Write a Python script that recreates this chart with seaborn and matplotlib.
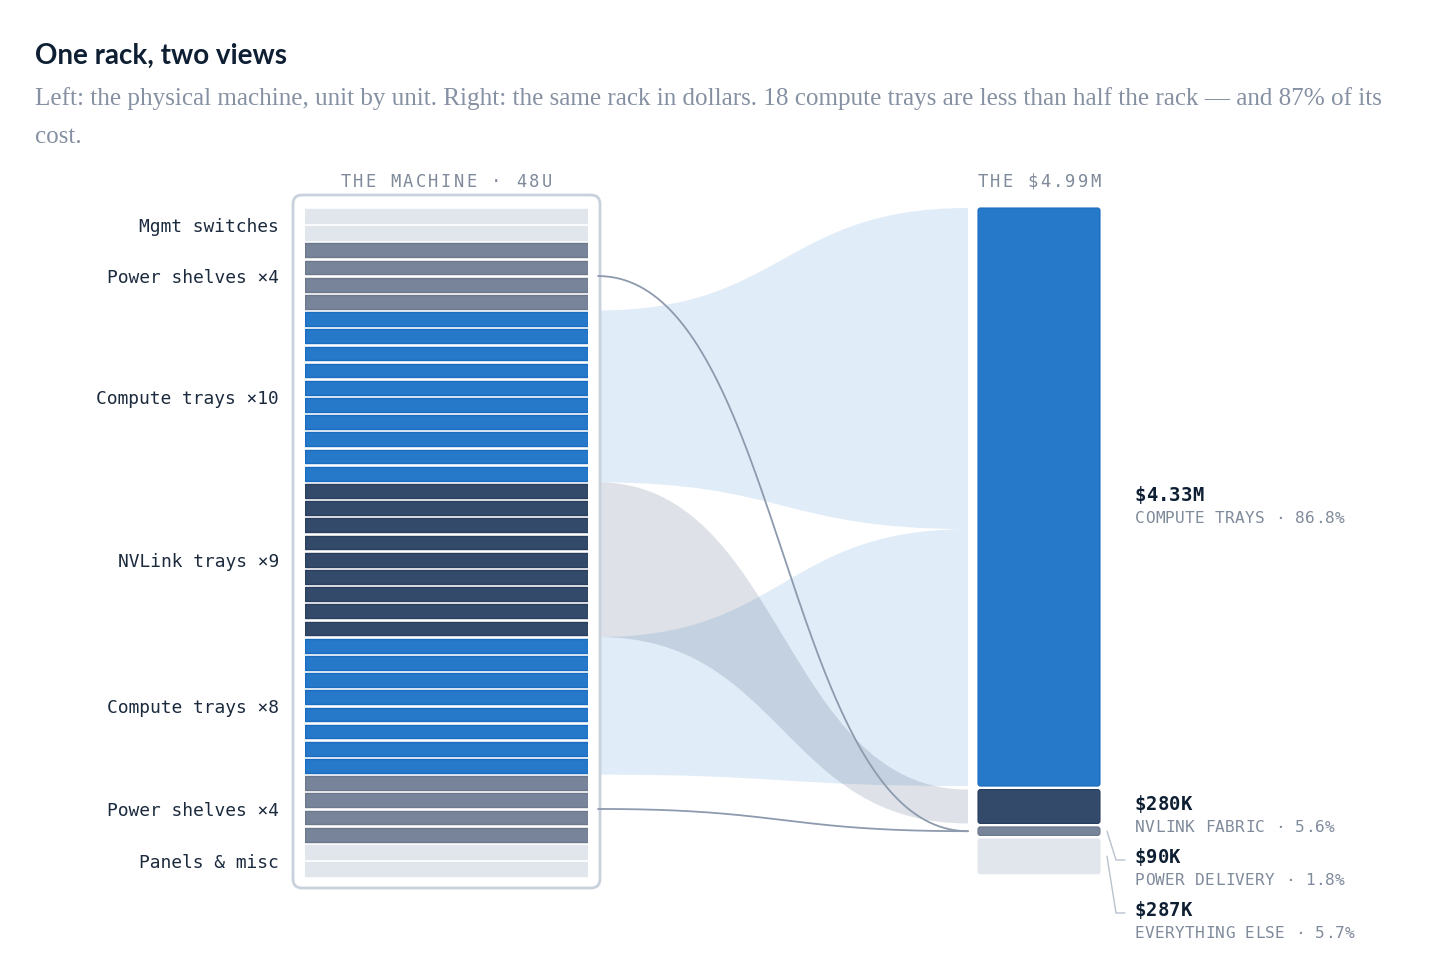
import numpy as np
import matplotlib
matplotlib.use("Agg")
import matplotlib.pyplot as plt
import matplotlib.colors as mcolors
import seaborn as sns
from matplotlib.patches import FancyBboxPatch, PathPatch
from matplotlib.path import Path

# rack, top to bottom
rack_groups = ["Mgmt switches", "Power shelves ×4", "Compute trays ×10", "NVLink trays ×9",
               "Compute trays ×8", "Power shelves ×4", "Panels & misc"]
rack_counts = [2, 4, 10, 9, 8, 4, 2]
rack_kinds = ["other", "power", "compute", "nvlink", "compute", "power", "other"]

# cost stack, $M
cost_names = ["COMPUTE TRAYS", "NVLINK FABRIC", "POWER DELIVERY", "EVERYTHING ELSE"]
cost_values = [4.33, 0.28, 0.09, 0.287]
cost_kinds = ["compute", "nvlink", "power", "other"]
cost_text = ["$4.33M", "$280K", "$90K", "$287K"]
cost_pct = ["86.8%", "5.6%", "1.8%", "5.7%"]
total_text = "$4.99M"

colors = {"compute": "#2679c9", "nvlink": "#334a6b", "power": "#778499", "other": "#e1e6ed"}
edge_colors = {"compute": "#1a6cc0", "nvlink": "#2a3f5e", "power": "#6c788c", "other": "#e1e6ed"}

sns.set_style("white")
plt.rcParams["font.family"] = ["DejaVu Sans Mono", "DejaVu Sans"]

W, H = 1456, 979
fig = plt.figure(figsize=(W / 100, H / 100), dpi=100)
ax = fig.add_axes([0, 0, 1, 1])
ax.set_xlim(0, W)
ax.set_ylim(H, 0)
ax.axis("off")

# layout
pitch = 17.19
rack_top = 208.3
n_units = sum(rack_counts)
rack_x0, rack_x1 = 305, 588
flow_x0, flow_x1 = 598, 968
bar_x0, bar_x1 = 978, 1100
bar_top = 209
px_per_m = 133.5
gap = 3.5

dark = "#1b2a3d"
muted = "#7f8a9b"
PX = 100 / 72


def spaced(x, y, s, size, color, track=0.0, ha="left", weight="normal"):
    step = 0.602 * size * PX + track
    total = len(s) * step - track
    if ha == "center":
        x = x - total / 2
    for i, ch in enumerate(s):
        ax.text(x + i * step, y, ch, fontsize=size, color=color, ha="left",
                va="baseline", fontweight=weight, family="DejaVu Sans Mono")


# title and subtitle
ax.text(35, 64, "One rack, two views", fontsize=20, fontweight="bold",
        color="#0f1f33", family="Lato", va="baseline")
sub1 = ("Left: the physical machine, unit by unit. Right: the same rack in dollars. "
        "18 compute trays are less than half the rack \u2014 and 87% of its")
t1 = ax.text(35, 105, sub1, fontsize=16, color="#8590a2", family="Liberation Serif", va="baseline")
fig.canvas.draw()
w1 = t1.get_window_extent(fig.canvas.get_renderer()).width
sub_size = 16 * 1349 / w1
t1.set_fontsize(sub_size)
ax.text(35, 143, "cost.", fontsize=sub_size, color="#8590a2", family="Liberation Serif", va="baseline")

# group positions on the rack (unit boundaries)
starts = np.concatenate([[0], np.cumsum(rack_counts)[:-1]])
g_top = [rack_top + s * pitch for s in starts]
g_bot = [rack_top + (s + c) * pitch for s, c in zip(starts, rack_counts)]
g_mid = [(a + b) / 2 for a, b in zip(g_top, g_bot)]

# cost stack positions
c_top, c_bot = [], []
y = bar_top
for i, v in enumerate(cost_values):
    slot = v * px_per_m
    c_top.append(y + (gap if i > 0 else 0))
    c_bot.append(y + slot)
    y += slot
c_mid = [(a + b) / 2 for a, b in zip(c_top, c_bot)]


def band(a0, a1, b0, b1, color, alpha):
    xm = (flow_x0 + flow_x1) / 2
    verts = [(flow_x0, a0), (xm, a0), (xm, b0), (flow_x1, b0), (flow_x1, b1),
             (xm, b1), (xm, a1), (flow_x0, a1), (flow_x0, a0)]
    codes = [Path.MOVETO, Path.CURVE4, Path.CURVE4, Path.CURVE4, Path.LINETO,
             Path.CURVE4, Path.CURVE4, Path.CURVE4, Path.CLOSEPOLY]
    ax.add_patch(PathPatch(Path(verts, codes), facecolor=color, alpha=alpha, lw=0, zorder=1))


def link(a, b, color):
    xm = (flow_x0 + flow_x1) / 2
    t = np.linspace(0, 1, 200)[:, None]
    p = np.array([(flow_x0, a), (xm, a), (xm, b), (flow_x1, b)])
    pts = ((1 - t) ** 3 * p[0] + 3 * (1 - t) ** 2 * t * p[1]
           + 3 * (1 - t) * t ** 2 * p[2] + t ** 3 * p[3])
    ax.plot(pts[:, 0], pts[:, 1], color=color, lw=1.3, zorder=3)


# compute flows split the compute segment by unit counts
comp_groups = [i for i, k in enumerate(rack_kinds) if k == "compute"]
comp_units = sum(rack_counts[i] for i in comp_groups)
y = c_top[0]
for gi in comp_groups:
    h = (c_bot[0] - c_top[0]) * rack_counts[gi] / comp_units
    band(g_top[gi], g_bot[gi], y, y + h, colors["compute"], 0.14)
    y += h

for gi, k in enumerate(rack_kinds):
    if k == "nvlink":
        ci = cost_kinds.index("nvlink")
        band(g_top[gi], g_bot[gi], c_top[ci], c_bot[ci], colors["nvlink"], 0.16)

for gi, k in enumerate(rack_kinds):
    if k == "power":
        ci = cost_kinds.index("power")
        link(g_mid[gi], c_mid[ci], "#8e9aad")

# rack frame
ax.add_patch(FancyBboxPatch((293, 196), 307, 693, boxstyle="round,pad=0,rounding_size=9",
                            facecolor="white", edgecolor="#c8d1dc", lw=2, zorder=2))

# rack units via seaborn
unit_ids = []
unit_kinds = []
for g, c, k in zip(rack_groups, rack_counts, rack_kinds):
    for j in range(c):
        unit_ids.append(f"{g}-{j}-{len(unit_ids)}")
        unit_kinds.append(k)

ax_rack = fig.add_axes([rack_x0 / W, 1 - (rack_top + n_units * pitch) / H,
                        (rack_x1 - rack_x0) / W, n_units * pitch / H], zorder=5)
sns.barplot(x=[1] * n_units, y=unit_ids, hue=unit_kinds, palette=colors, orient="h",
            dodge=False, saturation=1, width=0.8, legend=False, ax=ax_rack)
by_rgb = {mcolors.to_hex(c): k for k, c in colors.items()}
for p in ax_rack.patches:
    k = by_rgb.get(mcolors.to_hex(p.get_facecolor()))
    if k is None:
        continue
    p.set_edgecolor(edge_colors[k])
    p.set_linewidth(1.0)
    p.set_joinstyle("round")
ax_rack.set_xlim(0, 1)
ax_rack.set_ylim(n_units - 0.5, -0.5)
ax_rack.axis("off")
ax_rack.patch.set_alpha(0)

# rack labels
for name, m in zip(rack_groups, g_mid):
    ax.text(279, m + 6.3, name, fontsize=12.9, color=dark, ha="right", va="baseline",
            family="DejaVu Sans Mono")

# cost stack
for ci, k in enumerate(cost_kinds):
    ax.add_patch(FancyBboxPatch((bar_x0, c_top[ci]), bar_x1 - bar_x0, c_bot[ci] - c_top[ci],
                                boxstyle="round,pad=0,rounding_size=2.5",
                                facecolor=colors[k], edgecolor=edge_colors[k], lw=0.8, zorder=3))

# headers
spaced(446, 186.7, "THE MACHINE · 48U", 12.3, muted, track=2.3, ha="center")
spaced((bar_x0 + bar_x1) / 2, 186.7, "THE " + total_text, 12.3, muted, track=2.3, ha="center")

# cost labels with simple collision avoidance
prev = -1e9
for ci in range(len(cost_values)):
    want = c_mid[ci] + 2.5
    yb = max(want, prev + 53)
    if yb - want > 5:
        ax.plot([1107, 1116, 1125], [c_mid[ci], yb - 2, yb - 2], color="#b8c2cf", lw=1, zorder=3)
    spaced(1135, yb, cost_text[ci], 13.6, "#0f1f33", track=0.0, weight="bold")
    spaced(1135, yb + 22, f"{cost_names[ci]} · {cost_pct[ci]}", 11.6, muted, track=0.3)
    prev = yb

fig.savefig("out.png", dpi=100, facecolor="white")
